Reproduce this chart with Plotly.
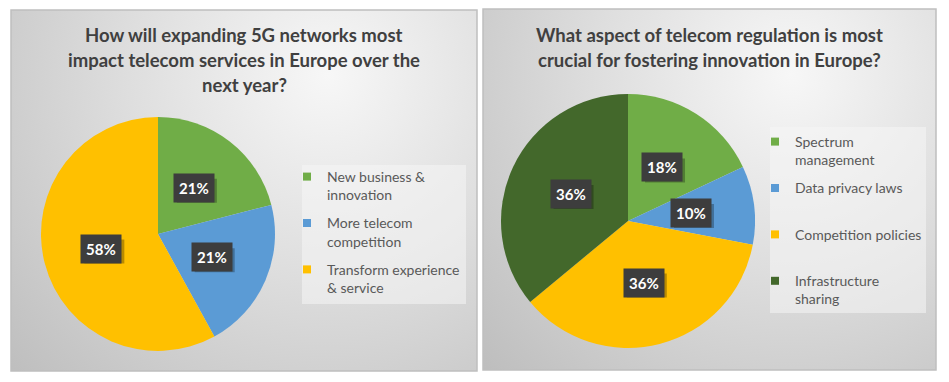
import math, base64
import plotly.graph_objects as go

W, H = 949, 382

# ---------- data ----------
title1 = ["How will expanding 5G networks most",
          "impact telecom services in Europe over the",
          "next year?"]
labels1 = ["New business &<br>innovation", "More telecom<br>competition",
           "Transform experience<br>& service"]
values1 = [21, 21, 58]
colors1 = ["#70AD47", "#5B9BD5", "#FFC000"]

title2 = ["What aspect of telecom regulation is most",
          "crucial for fostering innovation in Europe?"]
labels2 = ["Spectrum<br>management", "Data privacy laws<br>&nbsp;",
           "Competition policies<br>&nbsp;", "Infrastructure<br>sharing"]
values2 = [18, 10, 36, 36]
colors2 = ["#70AD47", "#5B9BD5", "#FFC000", "#43682B"]

FONT = "Lato"

# ---------- layout geometry (pixels) ----------
panels = [(11, 10, 477, 371), (483, 9, 936, 370)]
pies = [dict(cx=158, cy=234, r=117), dict(cx=628, cy=221, r=127)]
legend_boxes = [(302, 165, 466, 304), (770, 127, 926, 313)]
legend_pos = [(287, 161), (755, 126)]


def px_x(x):
    return x / W


def px_y(y):
    return (H - y) / H


def grad_svg(w, h):
    svg = f'''<svg xmlns="http://www.w3.org/2000/svg" width="{w}" height="{h}" viewBox="0 0 {w} {h}" preserveAspectRatio="none">
<defs><radialGradient id="g" gradientUnits="userSpaceOnUse" cx="{w*0.68}" cy="{h*0.18}" r="{max(w,h)*0.95}">
<stop offset="0" stop-color="#f7f7f7"/><stop offset="0.45" stop-color="#dedede"/><stop offset="1" stop-color="#bdbdbd"/></radialGradient></defs>
<rect width="{w}" height="{h}" fill="url(#g)"/></svg>'''
    return "data:image/svg+xml;base64," + base64.b64encode(svg.encode()).decode()


fig = go.Figure()

images, shapes, annotations = [], [], []
for (x0, y0, x1, y1) in panels:
    images.append(dict(source=grad_svg(x1 - x0, y1 - y0), xref="paper", yref="paper",
                        x=px_x(x0), y=px_y(y0), sizex=(x1 - x0) / W, sizey=(y1 - y0) / H,
                        sizing="stretch", layer="below", xanchor="left", yanchor="top"))
    shapes.append(dict(type="rect", xref="paper", yref="paper", x0=px_x(x0), x1=px_x(x1),
                       y0=px_y(y1), y1=px_y(y0), line=dict(color="#bfbfbf", width=1.5),
                       fillcolor="rgba(0,0,0,0)", layer="above"))
for (x0, y0, x1, y1) in legend_boxes:
    shapes.append(dict(type="rect", xref="paper", yref="paper", x0=px_x(x0), x1=px_x(x1),
                       y0=px_y(y1), y1=px_y(y0), line=dict(width=0),
                       fillcolor="rgba(245,245,245,0.55)", layer="below"))

for i, (labels, values, colors, pie) in enumerate(
        [(labels1, values1, colors1, pies[0]), (labels2, values2, colors2, pies[1])]):
    cx, cy, r = pie["cx"], pie["cy"], pie["r"]
    fig.add_trace(go.Pie(
        labels=labels, values=values, sort=False, direction="clockwise", rotation=0,
        marker=dict(colors=colors, line=dict(width=0)), textinfo="none",
        hoverinfo="label+percent", showlegend=False,
        domain=dict(x=[px_x(cx - r), px_x(cx + r)], y=[px_y(cy + r), px_y(cy - r)]),
    ))
    for j, (lab, col) in enumerate(zip(labels, colors)):
        fig.add_trace(go.Scatter(
            x=[None], y=[None], mode="markers", name=lab,
            marker=dict(symbol="square", size=8, color=col),
            legend="legend" if i == 0 else "legend2",
            legendgroup=f"g{i}_{j}", showlegend=True, hoverinfo="skip"))
    total = sum(values)
    cum = 0
    for v in values:
        mid = (cum + v / 2) / total * 2 * math.pi
        cum += v
        lx = cx + 0.5 * r * math.sin(mid)
        ly = cy - 0.5 * r * math.cos(mid)
        txt = f"{round(v / total * 100)}%"
        # drop shadow behind the label box
        shapes.append(dict(type="rect", xref="paper", yref="paper",
                           x0=px_x(lx - 17), x1=px_x(lx + 23),
                           y0=px_y(ly + 15), y1=px_y(ly - 9), line=dict(width=0),
                           fillcolor="rgba(0,0,0,0.28)", layer="above"))
        annotations.append(dict(x=px_x(lx), y=px_y(ly), xref="paper", yref="paper",
                                xanchor="center", yanchor="middle",
                                text=f"<b>{txt}</b>", showarrow=False,
                                font=dict(family=FONT, size=15, color="white"),
                                bgcolor="#3d3d3d", borderpad=5))

# titles
for lines, (x0, y0, x1, y1), top in [(title1, panels[0], 35), (title2, panels[1], 35)]:
    for k, line in enumerate(lines):
        annotations.append(dict(x=px_x((x0 + x1) / 2), y=px_y(top + 25 * k), xref="paper",
                                yref="paper", text=f"<b>{line}</b>", showarrow=False,
                                xanchor="center", yanchor="middle",
                                font=dict(family=FONT, size=18.5, color="#404040")))

legend_common = dict(font=dict(family=FONT, size=14, color="#595959"),
                     bgcolor="rgba(0,0,0,0)", borderwidth=0, valign="top",
                     traceorder="grouped", tracegroupgap=7,
                     xanchor="left", yanchor="top", itemclick=False, itemdoubleclick=False)

fig.update_layout(
    width=W, height=H, margin=dict(l=0, r=0, t=0, b=0),
    paper_bgcolor="white", plot_bgcolor="rgba(0,0,0,0)",
    xaxis=dict(visible=False), yaxis=dict(visible=False),
    images=images, shapes=shapes, annotations=annotations,
    legend=dict(x=px_x(legend_pos[0][0]), y=px_y(legend_pos[0][1]), **legend_common),
    legend2=dict(x=px_x(legend_pos[1][0]), y=px_y(legend_pos[1][1]), **legend_common),
)

fig.write_html("out.html", config={"displayModeBar": False},
               post_script="document.body.style.margin='0';document.body.style.overflow='hidden';")
